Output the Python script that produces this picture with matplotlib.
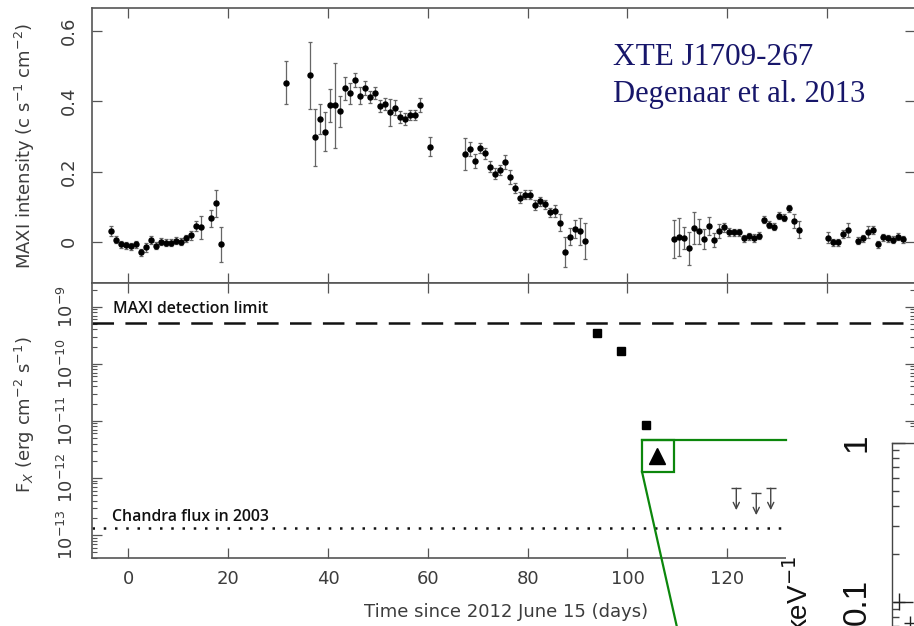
import matplotlib
matplotlib.use('Agg')
import matplotlib.pyplot as plt
import numpy as np
from matplotlib.lines import Line2D
from matplotlib.patches import Rectangle
from matplotlib.ticker import LogLocator, NullFormatter, FixedLocator

plt.rcParams['lines.scale_dashes'] = False
plt.rcParams['font.family'] = ['DejaVu Sans']

W, H, DPI = 914, 626, 100

# ---------------- data ----------------
maxi_day = [-3.45, -2.5, -1.5, -0.45, 0.55, 1.55, 2.55, 3.55, 4.55, 5.55, 6.55, 7.55, 8.55,
            9.55, 10.55, 11.55, 12.55, 13.55, 14.55, 16.5, 17.6, 18.6,
            31.5, 36.4, 37.5, 38.5, 39.4, 40.4, 41.5, 42.5, 43.5, 44.5, 45.5, 46.5, 47.5,
            48.4, 49.5, 50.4, 51.5, 52.4, 53.4, 54.4, 55.4, 56.4, 57.4, 58.4, 60.5,
            67.5, 68.5, 69.5, 70.5, 71.5, 72.4, 73.4, 74.4, 75.4, 76.4, 77.4, 78.4, 79.4,
            80.4, 81.4, 82.4, 83.4, 84.4, 85.4, 86.4, 87.4, 88.4, 89.4, 90.4, 91.4,
            109.3, 110.3, 111.3, 112.3, 113.3, 114.3, 115.3, 116.3, 117.3, 118.3, 119.3,
            120.3, 121.3, 122.3, 123.3, 124.3, 125.3, 126.3, 127.3, 128.3, 129.3, 130.3,
            131.3, 132.3, 133.3, 134.3,
            140.2, 141.2, 142.2, 143.2, 144.2, 146.2, 147.2, 148.2, 149.2, 150.2, 151.2,
            152.2, 153.2, 154.2, 155.2]
maxi_rate = [0.031, 0.006, -0.007, -0.009, -0.013, -0.007, -0.030, -0.016, 0.006, -0.011, 0.0,
             -0.002, -0.002, 0.003, 0.001, 0.010, 0.019, 0.045, 0.041, 0.067, 0.110, -0.007,
             0.453, 0.474, 0.297, 0.350, 0.313, 0.388, 0.388, 0.372, 0.437, 0.422, 0.460, 0.415,
             0.437, 0.412, 0.422, 0.385, 0.391, 0.368, 0.382, 0.356, 0.349, 0.361, 0.361, 0.388,
             0.271,
             0.249, 0.263, 0.230, 0.267, 0.252, 0.214, 0.194, 0.204, 0.227, 0.185, 0.153, 0.126,
             0.134, 0.134, 0.105, 0.115, 0.107, 0.084, 0.088, 0.055, -0.028, 0.015, 0.036, 0.030,
             0.002,
             0.008, 0.015, 0.011, -0.018, 0.039, 0.030, 0.008, 0.045, 0.006, 0.030, 0.042,
             0.028, 0.027, 0.027, 0.010, 0.016, 0.011, 0.017, 0.063, 0.048, 0.043, 0.074,
             0.068, 0.095, 0.060, 0.035,
             0.012, -0.001, -0.001, 0.023, 0.033, 0.003, 0.010, 0.028, 0.033, -0.007, 0.013,
             0.010, 0.006, 0.015, 0.007]
maxi_err = [0.015, 0.010, 0.010, 0.010, 0.010, 0.010, 0.010, 0.012, 0.012, 0.010, 0.010,
            0.010, 0.010, 0.010, 0.010, 0.010, 0.013, 0.015, 0.033, 0.024, 0.038, 0.049,
            0.062, 0.095, 0.080, 0.043, 0.055, 0.047, 0.120, 0.044, 0.033, 0.031, 0.021, 0.024,
            0.020, 0.017, 0.017, 0.017, 0.017, 0.039, 0.020, 0.017, 0.017, 0.015, 0.015, 0.020,
            0.028,
            0.045, 0.020, 0.020, 0.015, 0.015, 0.015, 0.015, 0.015, 0.020, 0.020, 0.013, 0.015,
            0.013, 0.013, 0.013, 0.013, 0.013, 0.013, 0.016, 0.025, 0.043, 0.024, 0.026, 0.038,
            0.051,
            0.053, 0.054, 0.031, 0.047, 0.045, 0.036, 0.028, 0.025, 0.020, 0.020, 0.013,
            0.010, 0.010, 0.010, 0.010, 0.010, 0.010, 0.010, 0.010, 0.010, 0.010, 0.010,
            0.010, 0.010, 0.020, 0.025,
            0.015, 0.010, 0.010, 0.012, 0.020, 0.010, 0.010, 0.017, 0.012, 0.010, 0.010,
            0.010, 0.010, 0.010, 0.010]

sq_day = [93.9, 98.7, 103.8]
sq_flux = [3.5e-10, 1.69e-10, 8.5e-12]
tri_day = [105.9]
tri_flux = [2.43e-12]
ul_day = [121.8, 125.8, 128.7]
ul_flux = [6.6e-13, 5.4e-13, 6.6e-13]
maxi_limit = 5.13e-10
chandra_2003 = 1.31e-13

inset_energy = [0.553, 0.65]
inset_energy_lo = [0.509, 0.60]
inset_energy_hi = [0.68, 0.72]
inset_spec = [0.1, 0.0734]
inset_spec_lo = [0.0887, 0.066]
inset_spec_hi = [0.1134, 0.081]

top_yticks = [0, 0.2, 0.4, 0.6]
top_yticklabels = ['0', '0.2', '0.4', '0.6']
bot_yticks = [1e-13, 1e-12, 1e-11, 1e-10, 1e-9]
bot_yticklabels = ['$10^{-13}$', '$10^{-12}$', '$10^{-11}$', '$10^{-10}$', '$10^{-9}$']
xticks = [0, 20, 40, 60, 80, 100, 120, 140]
xticklabels = ['0', '20', '40', '60', '80', '100', '120', '']

# ---------------- layout helpers ----------------
def fx(x):
    return x / W

def fy(y):
    return 1 - y / H

TXT = '#3c3c3c'
SP = '#555555'
GREEN = '#0c870c'

fig = plt.figure(figsize=(W / DPI, H / DPI), dpi=DPI)

L, R = 92, 915
ax1 = fig.add_axes([fx(L), fy(283), (R - L) / W, 275 / H])
ax2 = fig.add_axes([fx(L), fy(557.7), (R - L) / W, 274.7 / H], sharex=ax1)

for ax in (ax1, ax2):
    for s in ax.spines.values():
        s.set_color(SP)
        s.set_linewidth(1.2)
    ax.tick_params(axis='both', which='major', direction='in', length=7, width=0.9,
                   color=SP, top=True, right=True, labelcolor=TXT, labelsize=13)
    ax.tick_params(axis='both', which='minor', direction='in', length=3.5, width=0.8,
                   color=SP, top=True, right=True)

ax1.set_xlim(-7.27, 157.6)
ax2.set_xticks(xticks)
ax2.set_xticklabels(xticklabels)

# ---- top panel ----
ax1.errorbar(maxi_day, maxi_rate, yerr=maxi_err, fmt='o', color='black', ms=3.6,
             ecolor='#666666', elinewidth=0.9, capsize=1.6, capthick=0.9)
ax1.set_ylim(-0.117, 0.665)
ax1.set_yticks(top_yticks)
ax1.set_yticklabels(top_yticklabels, rotation=90, va='center')
ax1.tick_params(axis='y', pad=10.5)
ax1.tick_params(axis='x', labelbottom=False)
ax1.set_ylabel('MAXI intensity (c s$^{-1}$ cm$^{-2}$)', color=TXT, fontsize=13)
ax1.yaxis.set_label_coords(-0.067, 0.5)

# ---- bottom panel ----
ax2.set_yscale('log')
ax2.set_ylim(10 ** -13.398, 10 ** -8.585)
ax2.yaxis.set_major_locator(FixedLocator(bot_yticks))
ax2.yaxis.set_minor_locator(LogLocator(base=10, subs=np.arange(2, 10)))
ax2.yaxis.set_minor_formatter(NullFormatter())
ax2.set_yticklabels(bot_yticklabels, rotation=90, va='center')
ax2.tick_params(axis='y', pad=10.5)
ax2.tick_params(axis='x', pad=8.5)

ax2.axhline(maxi_limit, color='#111111', lw=1.8, dashes=(15.5, 8.2), xmax=0.985)
ax2.axhline(chandra_2003, color='#111111', lw=1.8, dashes=(1.8, 6.3))
ax2.plot(sq_day, sq_flux, 's', color='black', ms=6.3)
ax2.plot(tri_day, tri_flux, '^', color='black', ms=11)

ul_len = 10 ** -0.385
for d, f in zip(ul_day, ul_flux):
    ax2.annotate('', xy=(d, f * ul_len), xytext=(d, f),
                 arrowprops=dict(arrowstyle='->,head_length=0.45,head_width=0.22',
                                 color='#444444', lw=1.0, shrinkA=0, shrinkB=0))
ax2.plot(ul_day, ul_flux, '_', color='#444444', ms=7.5, mew=1.0)

ax2.set_xlabel('Time since 2012 June 15 (days)', color=TXT, fontsize=13)
ax2.xaxis.set_label_coords(0.503, -0.165)
ax2.set_ylabel('F$_X$ (erg cm$^{-2}$ s$^{-1}$)', color=TXT, fontsize=13)
ax2.yaxis.set_label_coords(-0.067, 0.52)

fig.text(fx(113), fy(313.3), 'MAXI detection limit', family='Open Sans', fontsize=11.4,
         fontweight='semibold', color='#111111', va='baseline', ha='left')
fig.text(fx(112), fy(520.7), 'Chandra flux in 2003', family='Open Sans', fontsize=11.4,
         fontweight='semibold', color='#111111', va='baseline', ha='left')

# ---- title text ----
fig.text(fx(613), fy(65), 'XTE J1709-267', family='Liberation Serif', fontsize=22.5,
         color='#17166a', va='baseline', ha='left')
fig.text(fx(613), fy(102), 'Degenaar et al. 2013', family='Liberation Serif', fontsize=22,
         color='#17166a', va='baseline', ha='left')

# ---- overlay: white cover, green zoom lines, inset ----
fig.add_artist(Rectangle((fx(786), fy(700)), (1000 - 786) / W, (700 - 430) / H,
                         transform=fig.transFigure, facecolor='white', edgecolor='none',
                         zorder=3))
fig.add_artist(Rectangle((fx(642), fy(471.7)), (674.3 - 642) / W, (471.7 - 440) / H,
                         transform=fig.transFigure, facecolor='none', edgecolor=GREEN,
                         lw=1.6, zorder=4))
fig.add_artist(Line2D([fx(642), fx(786)], [fy(440), fy(440)], transform=fig.transFigure,
                      color=GREEN, lw=1.6, zorder=4))
fig.add_artist(Line2D([fx(642), fx(681.2)], [fy(471.7), fy(646)], transform=fig.transFigure,
                      color=GREEN, lw=1.6, zorder=4))

axi = fig.add_axes([fx(891.7), fy(800), (1100 - 891.7) / W, (800 - 442.7) / H], zorder=5)
axi.set_xscale('log')
axi.set_yscale('log')
axi.set_xlim(0.5, 10)
axi.set_ylim(10 ** -2.25, 1)
xe = [np.subtract(inset_energy, inset_energy_lo), np.subtract(inset_energy_hi, inset_energy)]
ye = [np.subtract(inset_spec, inset_spec_lo), np.subtract(inset_spec_hi, inset_spec)]
axi.errorbar(inset_energy, inset_spec, xerr=xe, yerr=ye, fmt='none', ecolor='#222222',
             elinewidth=1.0)
for s in axi.spines.values():
    s.set_color('#444444')
    s.set_linewidth(1.0)
axi.yaxis.set_major_locator(FixedLocator([0.1, 1]))
axi.yaxis.set_minor_locator(LogLocator(base=10, subs=np.arange(2, 10)))
axi.yaxis.set_minor_formatter(NullFormatter())
axi.set_yticklabels(['0.1', '1'], rotation=90, va='center', family='Liberation Sans',
                    fontsize=24, color='#111111')
axi.tick_params(axis='y', which='major', direction='in', length=9, width=1.0, color='#444444',
                pad=14)
axi.tick_params(axis='y', which='minor', direction='in', length=5, width=1.0, color='#444444')
axi.tick_params(axis='x', which='both', bottom=False, labelbottom=False)

fig.text(fx(799), fy(556), 'keV$^{-1}$', rotation=90, ha='center', va='top',
         family='Liberation Sans', fontsize=20, color='#111111', zorder=6)

fig.savefig('out.png', dpi=DPI)
